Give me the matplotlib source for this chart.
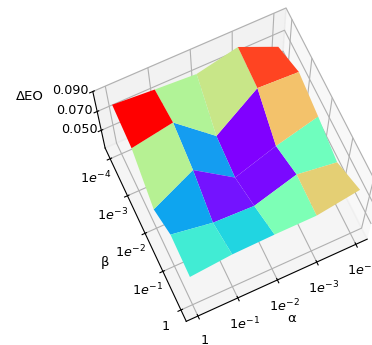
import matplotlib
matplotlib.use('Agg')
import matplotlib.pyplot as plt
import numpy as np

# alpha / beta grid, shown on log-like index positions
alpha_labels = ['1', '$1e^{-1}$', '$1e^{-2}$', '$1e^{-3}$', '$1e^{-4}$']
beta_labels = ['1', '$1e^{-1}$', '$1e^{-2}$', '$1e^{-3}$', '$1e^{-4}$']
z_ticks = [0.05, 0.07, 0.09]

# delta EO, rows are beta, columns are alpha
row_beta_1 = [0.0700, 0.0745, 0.0755, 0.0755, 0.0835]
row_beta_2 = [0.0720, 0.0635, 0.0615, 0.0765, 0.0695]
row_beta_3 = [0.0540, 0.0785, 0.0490, 0.0645, 0.0765]
row_beta_4 = [0.0790, 0.0865, 0.0530, 0.0840, 0.0820]
row_beta_5 = [0.0830, 0.0800, 0.0775, 0.0860, 0.0695]

delta_eo = np.array([row_beta_1, row_beta_2, row_beta_3, row_beta_4, row_beta_5])
x = np.arange(len(alpha_labels))
y = np.arange(len(beta_labels))
X, Y = np.meshgrid(x, y)

fig = plt.figure(figsize=(3.72, 3.45), dpi=100)
ax = fig.add_axes([0.145, 0.025, 0.95, 0.95], projection='3d')
ax.set_box_aspect((4, 4, 3.3))
ax.plot_surface(X, Y, delta_eo, cmap='rainbow', linewidth=0, antialiased=True)

ax.set_xticks(x)
ax.set_xticklabels(alpha_labels)
ax.set_yticks(y)
ax.set_yticklabels(beta_labels)
ax.set_zticks(z_ticks)
ax.set_zticklabels(['%.3f' % v for v in z_ticks])
ax.set_zlim(0.03, 0.09)
ax.tick_params(labelsize=9.2)
ax.tick_params(axis='x', pad=2)
ax.tick_params(axis='y', pad=2.5)
ax.tick_params(axis='z', pad=2)
ax.set_xlabel('α', fontsize=9.5, labelpad=1)
ax.set_ylabel('β', fontsize=9.5, labelpad=8)
ax.set_zlabel('ΔEO', fontsize=9.5, labelpad=11)
ax.view_init(elev=72, azim=-115)

plt.savefig('out.png', dpi=100)
